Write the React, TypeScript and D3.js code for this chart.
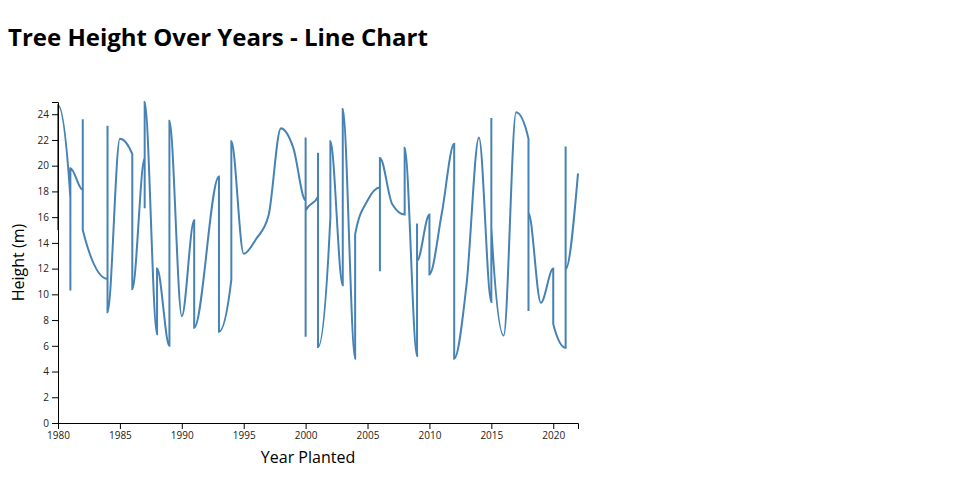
import React from "react";
import * as d3 from "d3";

const years: number[] = [
  1980, 1980,
  1981, 1981, 1981,
  1982, 1982, 1982,
  1984, 1984, 1984,
  1985,
  1986, 1986,
  1987, 1987, 1987,
  1988, 1988,
  1989, 1989,
  1990,
  1991, 1991,
  1993, 1993,
  1994, 1994,
  1995, 1996, 1997, 1998, 1999,
  2000, 2000, 2000, 2000,
  2001, 2001, 2001,
  2002, 2002,
  2003, 2003,
  2004, 2004,
  2005,
  2006, 2006, 2006,
  2007,
  2008, 2008,
  2009, 2009, 2009,
  2010, 2010,
  2011,
  2012, 2012,
  2013,
  2014,
  2015, 2015, 2015,
  2016,
  2017,
  2018, 2018, 2018,
  2019,
  2020, 2020,
  2021, 2021, 2021,
  2022,
];

const heights: number[] = [
  15.0, 24.7,
  17.5, 10.3, 19.8,
  18.1, 23.6, 15.0,
  11.2, 23.1, 8.6,
  22.1,
  20.9, 10.4,
  20.6, 16.7, 24.95,
  6.9, 12.0,
  6.0, 23.5,
  8.3,
  15.75, 7.4,
  19.15, 7.1,
  11.15, 21.9,
  13.15, 14.3, 16.1, 22.9, 21.4,
  17.3, 22.2, 6.7, 16.5,
  17.6, 21.0, 5.9,
  16.0, 21.9,
  10.7, 24.4,
  5.0, 14.65,
  17.3,
  18.3, 11.8, 20.6,
  17.0,
  16.2, 21.4,
  5.2, 15.5, 12.6,
  16.2, 11.55,
  16.3,
  21.7, 5.0,
  10.8,
  22.2,
  9.4, 23.7, 15.2,
  6.8,
  24.15,
  22.1, 8.7, 16.35,
  9.35,
  12.0, 7.7,
  5.85, 21.5, 11.95,
  19.4,
];

const xTickValues: number[] = [1980, 1985, 1990, 1995, 2000, 2005, 2010, 2015, 2020];
const yTickValues: number[] = [0, 2, 4, 6, 8, 10, 12, 14, 16, 18, 20, 22, 24];

const titleText = "Tree Height Over Years - Line Chart";
const xLabel = "Year Planted";
const yLabel = "Height (m)";

const W = 944;
const H = 484;
const margin = { top: 94, left: 50 };
const innerW = 520;
const innerH = 321;

export default function App() {
  const data = years.map((y, i) => ({ year: y, height: heights[i] }));
  const x = d3
    .scaleLinear()
    .domain(d3.extent(years) as [number, number])
    .range([0, innerW]);
  const y = d3
    .scaleLinear()
    .domain([0, d3.max(heights) as number])
    .range([innerH, 0]);

  const line = d3
    .line<{ year: number; height: number }>()
    .x((d) => x(d.year))
    .y((d) => y(d.height))
    .curve(d3.curveMonotoneX);

  const xAxisRef = React.useRef<SVGGElement>(null);
  const yAxisRef = React.useRef<SVGGElement>(null);

  React.useEffect(() => {
    if (xAxisRef.current) {
      const g = d3.select(xAxisRef.current);
      g.call(
        d3.axisBottom(x).tickValues(xTickValues).tickFormat(d3.format("d")) as any
      );
      g.selectAll("text").attr("font-family", "'Open Sans', sans-serif").attr("fill", "#222");
    }
    if (yAxisRef.current) {
      const g = d3.select(yAxisRef.current);
      g.call(d3.axisLeft(y).tickValues(yTickValues) as any);
      g.selectAll("text").attr("font-family", "'Open Sans', sans-serif").attr("fill", "#222");
    }
  });

  return (
    <svg width={W} height={H} style={{ display: "block", fontFamily: "'Open Sans', sans-serif" }}>
      <text x={0} y={38} fontSize={24} fontWeight="bold" fill="#000">
        {titleText}
      </text>
      <g transform={`translate(${margin.left},${margin.top})`}>
        <path d={line(data) || ""} fill="none" stroke="steelblue" strokeWidth={2} />
        <g ref={xAxisRef} transform={`translate(0,${innerH})`} />
        <g ref={yAxisRef} />
        <text
          x={250}
          y={innerH + 40}
          textAnchor="middle"
          fontSize={16}
          fill="#000"
        >
          {xLabel}
        </text>
        <text
          transform={`translate(${-34},${innerH / 2}) rotate(-90)`}
          textAnchor="middle"
          fontSize={16}
          fill="#000"
        >
          {yLabel}
        </text>
      </g>
    </svg>
  );
}
